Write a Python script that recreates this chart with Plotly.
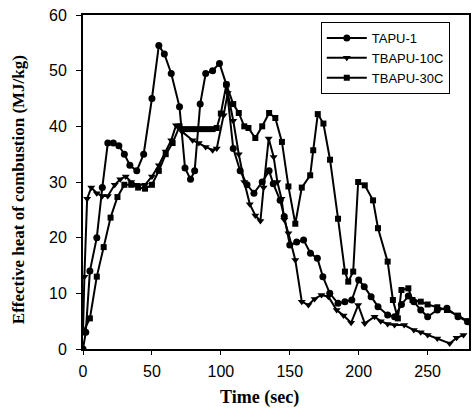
import plotly.graph_objects as go

# ---- data ----
tapu1_x = [0, 2, 5, 10, 14, 18, 22, 26, 30, 34, 39, 44, 50, 55, 59, 64, 70, 74, 78, 81,
           85, 89, 94, 99, 104, 109, 114, 119, 124, 130, 135, 138, 143, 146, 150, 155, 160, 165, 170, 174,
           179, 185, 190, 195, 200, 204, 209, 214, 221, 226, 231, 236, 240, 245, 250, 257, 264, 272, 279]
tapu1_y = [0, 3, 14, 20, 29, 37, 37, 36.5, 35, 33, 32, 35, 45, 54.5, 53, 49.5, 43.5, 32.5, 30.5, 32,
           44, 49.5, 50, 51.3, 47.5, 36, 32, 29.5, 28, 30, 32, 29.7, 26.7, 23.8, 18.7, 19.2, 19.6, 17.2, 16.3, 13,
           10, 8.2, 8.5, 8.8, 12.4, 11.2, 9.4, 7.6, 6.1, 5.8, 8, 9.5, 8.5, 7, 5.8, 7, 7.3, 5.8, 4.9]

tbapu10_x = [0, 1, 3, 6, 10, 14, 18, 23, 27, 31, 35, 39, 45, 50, 55, 60, 64, 67.5, 72, 79.5,
             84, 89, 94, 97, 102, 105, 109, 113, 117, 121, 125, 128.7, 131, 134.7, 138.3, 141, 144, 146, 149, 154,
             158.7, 163.5, 168, 173, 178, 184, 189, 194.5, 199.6, 204.4, 211.5, 216, 221, 226, 233, 240, 245, 250, 257, 266,
             271, 276]
tbapu10_y = [3, 13, 27, 29, 28, 27.5, 27.5, 29.5, 30.5, 31, 30, 29.5, 29.5, 31, 33, 35.5, 37.5, 40.2, 39, 37.5,
             37, 36.3, 35.7, 36, 42, 46, 41, 35, 30, 26, 24, 23, 29, 37.8, 34.5, 30, 27, 23.2, 20.8, 16,
             8.5, 7.9, 9, 9.7, 9.4, 7, 6, 4.7, 7.9, 4.6, 5.8, 5, 4.5, 4.3, 4.3, 3.4, 3, 2.5, 1.9, 1,
             2, 2.5]

tbapu30_x = [0, 5, 10, 15, 20, 25, 30, 35, 40, 45, 50, 55, 60, 65, 70, 74, 78, 82, 86, 90,
             94, 97, 100, 104, 109, 113, 117, 120, 125, 130, 135, 139.5, 144.3, 149, 154, 158.7, 164.8, 167, 170.3, 174.4,
             179.2, 185, 190, 192.4, 196, 199.6, 204.4, 210.4, 214, 221, 224.8, 228.4, 231, 236, 239, 245, 250, 257, 264, 272,
             279]
tbapu30_y = [3, 5.5, 13, 18.3, 23.6, 27.3, 29.5, 29.5, 29, 28.8, 29.5, 32, 35, 37, 40, 39.5, 39.5, 39.5, 39.5, 39.5,
             39.5, 39.7, 42.3, 47.5, 44, 42.4, 40, 39.7, 37.9, 40, 42.4, 41.5, 37.2, 29.2, 22.5, 29, 31.2, 35.7, 42.2, 40.5,
             34, 23.4, 13.9, 12.1, 13.9, 30, 29.4, 26.7, 21.7, 15.7, 8.8, 5.5, 10.6, 10.9, 8.8, 8.5, 8, 7.5, 7, 6,
             5]

x_ticks = [0, 50, 100, 150, 200, 250]
y_ticks = [0, 10, 20, 30, 40, 50, 60]

series = [
    ("TAPU-1", tapu1_x, tapu1_y, "circle", 7),
    ("TBAPU-10C", tbapu10_x, tbapu10_y, "triangle-down", 7),
    ("TBAPU-30C", tbapu30_x, tbapu30_y, "square", 6),
]

fig = go.Figure()
for name, xs, ys, sym, sz in series:
    fig.add_trace(go.Scatter(
        x=xs, y=ys, name=name, mode="lines+markers",
        line=dict(color="black", width=2),
        marker=dict(symbol=sym, size=sz, color="black"),
    ))

axis_font = dict(family="Liberation Sans, Arial", size=16, color="black")
fig.update_layout(
    width=473, height=411,
    margin=dict(l=83, r=2, t=15, b=62),
    paper_bgcolor="white", plot_bgcolor="white",
    showlegend=True,
    legend=dict(
        x=0.616, y=0.979, xanchor="left", yanchor="top",
        bordercolor="black", borderwidth=1, bgcolor="white",
        font=dict(family="Liberation Sans, Arial", size=13, color="black"),
        itemwidth=40, tracegroupgap=0,
    ),
    xaxis=dict(
        range=[0, 280], tickvals=x_ticks, showgrid=False, zeroline=False,
        showline=True, linecolor="black", linewidth=2, mirror=True,
        ticks="outside", ticklen=4, tickcolor="black", tickfont=axis_font,
        ticklabelstandoff=3,
    ),
    yaxis=dict(
        range=[0, 60], tickvals=y_ticks, showgrid=False, zeroline=False,
        showline=True, linecolor="black", linewidth=2, mirror=True,
        ticks="outside", ticklen=5, tickcolor="black", tickfont=axis_font,
        ticklabelstandoff=6,
    ),
    annotations=[
        dict(text="<b>Time (sec)</b>", x=0.456, y=-0.145, xref="paper", yref="paper",
             xanchor="center", yanchor="middle", showarrow=False,
             font=dict(family="Liberation Serif, Times New Roman", size=18, color="black")),
        dict(text="<b>Effective heat of combustion (MJ/kg)</b>", x=-0.168, y=0.476,
             xref="paper", yref="paper", textangle=-90,
             xanchor="center", yanchor="middle", showarrow=False,
             font=dict(family="Liberation Serif, Times New Roman", size=17, color="black")),
    ],
)

fig.write_html("out.html")
